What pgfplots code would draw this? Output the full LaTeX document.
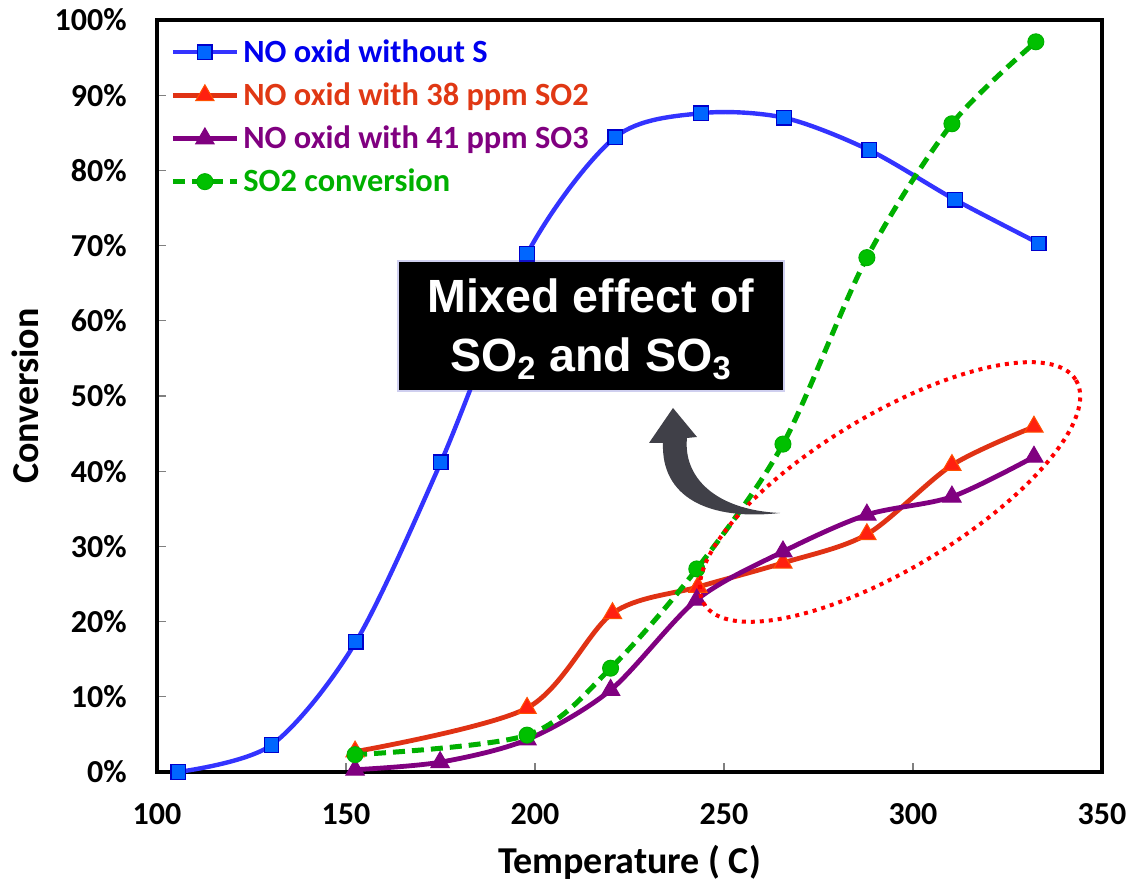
\documentclass[border=0pt]{standalone}
\usepackage{pgfplots}
\pgfplotsset{compat=1.18}
\usepackage{fontspec}
\setmainfont{Carlito}
\newfontfamily\arialfont{Liberation Sans}
\definecolor{blueline}{RGB}{51,51,255}
\definecolor{bluefill}{RGB}{0,102,255}
\definecolor{blueedge}{RGB}{0,0,204}
\definecolor{bluetext}{RGB}{0,0,238}
\definecolor{redline}{RGB}{224,50,20}
\definecolor{redfill}{RGB}{255,32,16}
\definecolor{rededge}{RGB}{255,80,0}
\definecolor{redtext}{RGB}{224,56,20}
\definecolor{purp}{RGB}{128,0,128}
\definecolor{greenline}{RGB}{0,176,0}
\definecolor{greenfill}{RGB}{0,192,0}
\definecolor{arrowgray}{RGB}{64,64,72}
\newcommand{\legfont}{\bfseries\fontsize{16.2}{19}\selectfont}
\begin{document}
\begin{tikzpicture}
\useasboundingbox (-78.5pt,-54.5pt) rectangle (487.5pt,386pt);
\begin{axis}[
  at={(0,0)}, anchor=south west,
  scale only axis, width=472.5pt, height=376pt,
  xmin=100, xmax=350, ymin=0, ymax=100,
  xtick={100,150,...,350}, ytick={0,10,...,100},
  clip=false,
  tick pos=left, tick align=inside,
  major tick length=4.5pt,
  major tick style={gray, line width=0.6pt},
  axis line style={black, line width=1.6pt},
  /pgf/number format/assume math mode=true,
  yticklabel={\pgfmathprintnumber{\tick}\%},
  xticklabel style={font=\bfseries\fontsize{16}{16}\selectfont, anchor=base, yshift=-26.5pt, inner sep=0pt},
  yticklabel style={font=\bfseries\fontsize{16}{16}\selectfont, anchor=east, xshift=-15pt, inner sep=0pt},
  xlabel={Temperature ( C)}, ylabel={Conversion},
  label style={font=\bfseries\fontsize{19}{19}\selectfont},
  xlabel style={at={(axis description cs:0.5,0)}, anchor=base, yshift=-51pt},
  ylabel style={at={(axis description cs:-0.1397,0.5)}, anchor=center},
  legend style={draw=none, fill=none, at={(axis description cs:0,1)}, anchor=north west,
    xshift=3.5pt, yshift=-5.5pt, font=\legfont, row sep=4.7pt,
    /tikz/every even column/.append style={column sep=1pt}},
  legend cell align=left,
  legend image code/.code={\draw[mark repeat=2,mark phase=2,#1] plot coordinates {(0pt,0pt) (16pt,0pt) (32pt,0pt)};},
]
\addplot[blueline, line width=2.2pt, smooth, mark=square*, mark size=3.6pt,
  mark options={solid, fill=bluefill, draw=blueedge, line width=0.6pt}]
  coordinates {(105.6,0) (130.3,3.6) (152.6,17.3) (175.1,41.2) (197.9,68.9) (221.2,84.4) (243.9,87.6) (265.9,87.0) (288.4,82.7) (311.1,76.1) (333.3,70.3)};
\addlegendentry{\legfont\textcolor{bluetext}{NO oxid without S}}
\addplot[redline, line width=2.4pt, smooth, mark=triangle*, mark size=5.3pt,
  mark options={solid, fill=redfill, draw=rededge, line width=0.5pt}]
  coordinates {(152.4,2.7) (197.9,8.5) (220.5,21.1) (243.1,24.6) (265.6,27.8) (287.8,31.6) (310.3,40.8) (332.0,45.9)};
\addlegendentry{\legfont\textcolor{redtext}{NO oxid with 38 ppm SO2}}
\addplot[purp, line width=2.4pt, smooth, mark=triangle*, mark size=5.3pt,
  mark options={solid, fill=purp, draw=purp, line width=0.5pt}]
  coordinates {(152.4,0.3) (174.9,1.3) (197.9,4.3) (220.0,10.9) (242.8,22.9) (265.6,29.3) (287.8,34.2) (310.3,36.6) (332.0,41.9)};
\addlegendentry{\legfont\textcolor{purp}{NO oxid with 41 ppm SO3}}
\addplot[greenline, line width=2.5pt, smooth, dash pattern=on 6pt off 3.5pt, mark=*, mark size=4pt,
  mark options={solid, fill=greenfill, draw=greenline, line width=0.5pt}]
  coordinates {(152.4,2.3) (197.9,4.9) (220.0,13.8) (242.8,27.0) (265.6,43.6) (287.8,68.4) (310.3,86.2) (332.5,97.1)};
\addlegendentry{\legfont\textcolor{greenline}{SO2 conversion}}
\end{axis}
\begin{scope}[x=0.5pt, y=-0.5pt, shift={(-78.5pt,386pt)}]
  % red dotted ellipse
  \draw[red, line width=2pt, dash pattern=on 2pt off 2.5pt, rotate around={31:(890,492)}]
    (890,492) ellipse [x radius=217, y radius=77];
  % black box
  \fill[gray!50!blue, opacity=0.25] (397,260) rectangle (785,392);
  \fill[black] (399,262) rectangle (783,390);
  \node[text=white, font=\arialfont\bfseries\fontsize{23.3}{29.5}\selectfont, align=center, anchor=base]
    at (591,313) {Mixed effect of};
  \node[text=white, font=\arialfont\bfseries\fontsize{23.3}{29.5}\selectfont, align=center, anchor=base]
    at (591,372) {SO\textsubscript{2} and SO\textsubscript{3}};
  % curved arrow
  \fill[arrowgray] (673,408) -- (697,437) -- (687,438)
     .. controls (683,477) and (715,510) .. (780,513)
     .. controls (708,521) and (661,497) .. (663,443) -- (649,443) -- cycle;
\end{scope}
\end{tikzpicture}
\end{document}
